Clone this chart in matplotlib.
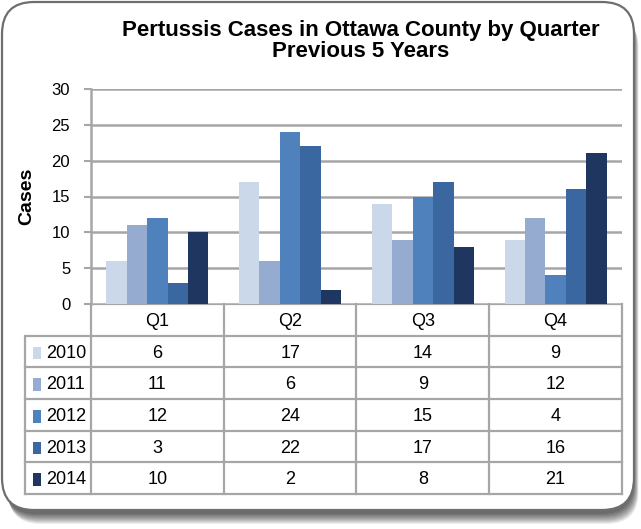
import matplotlib
matplotlib.use('Agg')
import matplotlib.pyplot as plt
from matplotlib.patches import FancyBboxPatch, Rectangle

# data
quarters = ['Q1', 'Q2', 'Q3', 'Q4']
years = ['2010', '2011', '2012', '2013', '2014']
cases_2010 = [6, 17, 14, 9]
cases_2011 = [11, 6, 9, 12]
cases_2012 = [12, 24, 15, 4]
cases_2013 = [3, 22, 17, 16]
cases_2014 = [10, 2, 8, 21]
series = [cases_2010, cases_2011, cases_2012, cases_2013, cases_2014]
colors = ['#cad8ea', '#95abd0', '#4f81bd', '#3a67a0', '#1e3660']

W, H = 641, 529
plt.rcParams['font.family'] = ['Liberation Sans', 'DejaVu Sans']
GRID = '#a6a6a6'


def box(l, t, r, b):
    # pixel box -> figure fraction
    return [l / W, 1 - b / H, (r - l) / W, (b - t) / H]


fig = plt.figure(figsize=(W / 100, H / 100), dpi=100)

# frame with shadow
bg = fig.add_axes([0, 0, 1, 1])
bg.set_xlim(0, W)
bg.set_ylim(H, 0)
bg.axis('off')
for k in range(10):
    bg.add_patch(FancyBboxPatch((4 + k * 0.5, 6 + k * 1.1), 630, 508,
                                boxstyle='round,pad=0,rounding_size=32',
                                fc='#000000', ec='none', alpha=0.08))
bg.add_patch(FancyBboxPatch((2, 2), 632, 508,
                            boxstyle='round,pad=0,rounding_size=32',
                            fc='white', ec='#6e6e6e', lw=1.6))

fig.text(361 / W, 1 - 41 / H, 'Pertussis Cases in Ottawa County by Quarter\nPrevious 5 Years',
         ha='center', va='center', fontsize=16, fontweight='bold', linespacing=1.0)

# bars
ax = fig.add_axes(box(91, 89, 622, 304))
w = 0.154
for i, vals in enumerate(series):
    xs = [q + (i - 2) * w for q in range(len(quarters))]
    ax.bar(xs, vals, width=w, color=colors[i], edgecolor='none', zorder=3)
ax.set_xlim(-0.5, 3.5)
ax.set_ylim(0, 30)
ax.set_yticks(range(0, 31, 5))
ax.set_xticks([])
ax.yaxis.grid(True, color=GRID, lw=1.8, zorder=0)
for s in ['top', 'right', 'bottom']:
    ax.spines[s].set_visible(False)
ax.spines['left'].set_color(GRID)
ax.spines['left'].set_linewidth(1.8)
ax.tick_params(axis='y', length=5, color=GRID, width=1.5, labelsize=12, pad=10)
ax.set_ylabel('Cases', fontsize=14, fontweight='bold', labelpad=12)

# data table
tb = fig.add_axes(box(24.6, 304, 622, 494))
tb.set_xlim(-1, 3.5)
tb.set_ylim(6, 0)
tb.axis('off')
lw = 1.6
tb.plot([-1, 3.5], [1, 1], color=GRID, lw=lw)
tb.plot([-0.5, 3.5], [0, 0], color=GRID, lw=lw)
for r in range(2, 7):
    tb.plot([-1, 3.5], [r, r], color=GRID, lw=lw, clip_on=False)
for c in range(5):
    tb.plot([c - 0.5, c - 0.5], [0, 6], color=GRID, lw=lw, clip_on=False)
tb.plot([-1, -1], [1, 6], color=GRID, lw=lw, clip_on=False)
for c, q in enumerate(quarters):
    tb.text(c, 0.55, q, ha='center', va='center', fontsize=13)
for r, (yr, vals) in enumerate(zip(years, series)):
    yc = r + 1.55
    tb.add_patch(Rectangle((-0.935, yc - 0.2), 0.055, 0.4, fc=colors[r], ec='none'))
    tb.text(-0.84, yc, yr, ha='left', va='center', fontsize=13)
    for c, v in enumerate(vals):
        tb.text(c, yc, str(v), ha='center', va='center', fontsize=13)

fig.savefig('out.png', dpi=100)
